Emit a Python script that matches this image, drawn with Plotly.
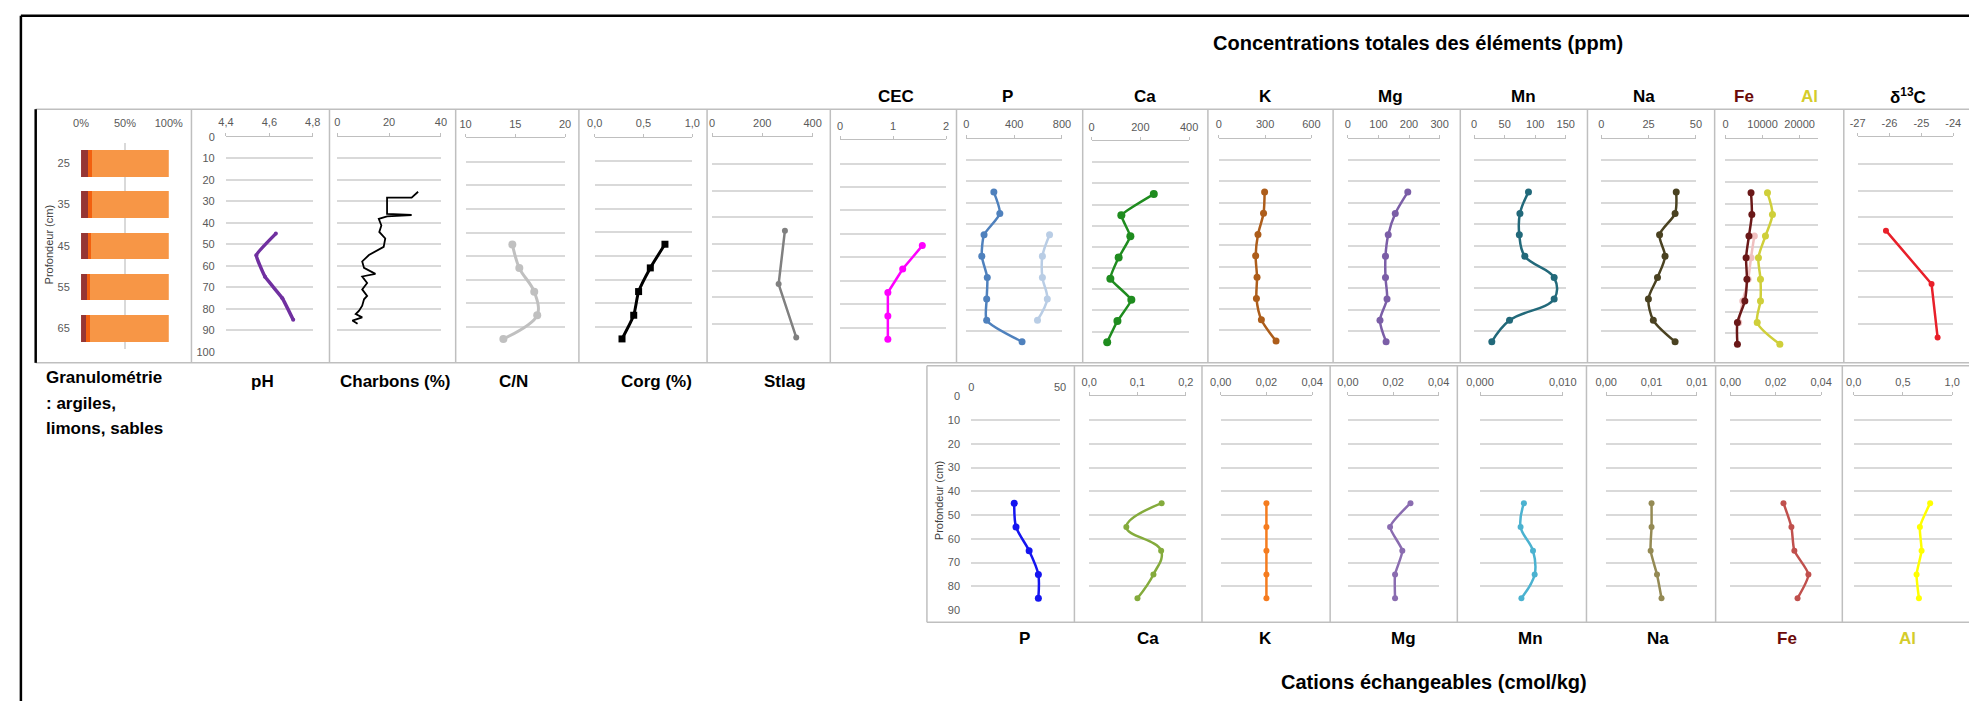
import plotly.graph_objects as go

W, H = 1983, 707


def px(x):
    return x / W


def py(y):
    return 1 - y / H


# ---------------- DATA ----------------
granulo_depth = [25, 35, 45, 55, 65]
argiles = [8.5, 8.5, 7.5, 6.5, 6.0]
limons = [4.5, 4.5, 4.0, 4.0, 4.0]
sables = [87.0, 87.0, 88.5, 89.5, 90.0]

depth_5 = [45, 55, 65, 75, 85]
depth_8 = [25, 35, 45, 55, 65, 75, 85, 95]
depth_3 = [35, 55, 75]

ph = [4.63, 4.54, 4.58, 4.66, 4.71]
charbons_depth = [25.6, 28.3, 28.3, 35.9, 36.4, 37.0, 38.2, 41.3, 44.3, 47.3, 51.2,
                  55.0, 58.0, 61.0, 63.8, 65.0, 68.0, 71.0, 74.0, 75.6, 78.6, 80.9,
                  82.5, 84.0, 85.5, 87.0]
charbons = [31.2, 28.7, 19.2, 19.2, 28.7, 19.2, 16.0, 17.0, 16.2, 18.5, 17.9,
            12.2, 9.6, 10.3, 14.7, 9.6, 11.5, 9.6, 11.5, 10.3, 9.6, 8.4,
            7.1, 9.6, 5.8, 7.8]
cn = [14.7, 15.4, 16.9, 17.2, 13.8]
corg = [0.72, 0.57, 0.45, 0.40, 0.28]
stlag = [290, 265, 335]
cec = [1.55, 1.18, 0.90, 0.90, 0.90]

p_tot = [230, 280, 148, 129, 175, 170, 170, 466]
p_tot_b = [696, 636, 636, 677, 595]
ca_tot = [255, 122, 159, 111, 77, 163, 106, 64]
k_tot = [297, 290, 254, 239, 248, 244, 276, 371]
mg_tot = [196, 155, 132, 123, 123, 128, 105, 125]
mn_tot = [89, 75, 74, 83, 131, 131, 58, 29]
na_tot = [39.6, 39.0, 30.8, 33.7, 29.7, 24.9, 27.5, 39.0]
fe_tot = [6890, 7110, 6330, 5560, 5780, 5220, 3220, 3220]
al_tot = [11330, 12670, 10780, 8890, 9440, 9440, 8560, 14670]
fe_tot_b = [7780, 6890, 6110, 4670, 3560]
d13c = [-26.11, -24.68, -24.49]

p_ex = [24.2, 25.2, 32.6, 37.8, 37.8]
ca_ex = [0.150, 0.077, 0.149, 0.133, 0.100]
k_ex = [0.020, 0.020, 0.020, 0.020, 0.020]
mg_ex = [0.0276, 0.0186, 0.0240, 0.0208, 0.0208]
mn_ex = [0.0053, 0.0049, 0.0064, 0.0066, 0.0050]
na_ex = [0.0050, 0.0050, 0.0049, 0.0056, 0.0061]
fe_ex = [0.0234, 0.0269, 0.0282, 0.0344, 0.0296]
al_ex = [0.776, 0.672, 0.689, 0.638, 0.662]

# ---------------- FIGURE ----------------
fig = go.Figure()
layout = {}
TICKFONT = dict(family="Liberation Sans", size=11, color="#595959")
counter = {"n": 0}


def new_panel(x0, x1, ytop, ybot, R, xrange, tickvals, ticktext, ylabels=False,
              axisline=True):
    counter["n"] += 1
    n = counter["n"]
    sx = "" if n == 1 else str(n)
    layout["xaxis" + sx] = dict(
        domain=[px(x0), px(x1)], anchor="y" + sx, side="top", range=xrange,
        tickvals=tickvals, ticktext=ticktext, showline=axisline, linecolor="#bfbfbf",
        linewidth=1, ticks="outside" if axisline else "", ticklen=3, tickcolor="#bfbfbf",
        showgrid=False, zeroline=False, tickfont=TICKFONT, ticklabelstandoff=2,
        fixedrange=True)
    yt = list(range(0, R + 1, 10)) if ylabels else list(range(10, R + 1, 10))
    layout["yaxis" + sx] = dict(
        domain=[py(ybot), py(ytop)], anchor="x" + sx, range=[R, 0], tickvals=yt,
        showgrid=True, gridcolor="#d9d9d9", gridwidth=2, showline=False,
        zeroline=False, showticklabels=ylabels, ticks="outside" if ylabels else "",
        ticklen=8, tickcolor="rgba(0,0,0,0)", tickfont=TICKFONT, fixedrange=True)
    return ("x" + sx, "y" + sx)


def line(ax, xs, ys, color, width=2.5, msize=7, symbol="circle", smooth=0.7,
         markers=True):
    fig.add_trace(go.Scatter(
        x=xs, y=ys, xaxis=ax[0], yaxis=ax[1], showlegend=False,
        mode="lines+markers" if markers else "lines",
        line=dict(color=color, width=width, shape="spline" if smooth else "linear",
                  smoothing=smooth if smooth else 0),
        marker=dict(size=msize, color=color, symbol=symbol), cliponaxis=False,
        hoverinfo="skip"))


# Granulometry panel
counter["n"] += 1
layout["xaxis"] = dict(domain=[px(68), px(157)], anchor="y", side="top", range=[0, 100],
                       tickvals=[0, 50, 100], ticktext=["0%", "50%", "100%"],
                       showline=False, showgrid=True, gridcolor="#d9d9d9", gridwidth=1.5,
                       zeroline=False, ticks="outside", ticklen=10,
                       tickcolor="rgba(0,0,0,0)", tickfont=TICKFONT, fixedrange=True)
layout["yaxis"] = dict(domain=[py(349), py(139)], anchor="x", range=[70, 20],
                       tickvals=granulo_depth, showgrid=False, zeroline=False,
                       showline=False, ticks="outside", ticklen=8,
                       tickcolor="rgba(0,0,0,0)", tickfont=TICKFONT, fixedrange=True)
for vals, col in [(argiles, "#963634"), (limons, "#f2600f"), (sables, "#f79646")]:
    fig.add_trace(go.Bar(x=vals, y=granulo_depth, orientation="h", width=6.4,
                         marker=dict(color=col, line=dict(width=0)), xaxis="x",
                         yaxis="y", showlegend=False, hoverinfo="skip"))

# Top row
a = new_panel(215, 303, 133, 352, 100, [4.4, 4.8], [4.4, 4.6, 4.8],
              ["4,4", "4,6", "4,8"], ylabels=True)
line(a, ph, depth_5, "#7030a0", width=3.5, smooth=0.3, markers=True, msize=4)

a = new_panel(328, 433, 133, 351.7, 100, [0, 40], [0, 20, 40], ["0", "20", "40"])
line(a, charbons, charbons_depth, "#000000", width=1.8, smooth=0, markers=False)

a = new_panel(458, 559, 134.3, 350.7, 90, [10, 20], [10, 15, 20], ["10", "15", "20"])
line(a, cn, depth_5, "#c0c0c0", width=3, msize=8, smooth=1.0)

a = new_panel(589, 688, 134, 350.7, 90, [0, 1], [0, 0.5, 1], ["0,0", "0,5", "1,0"])
line(a, corg, depth_5, "#000000", width=3, msize=7, symbol="square", smooth=0.5)

a = new_panel(708, 810, 133.5, 350.7, 80, [0, 400], [0, 200, 400], ["0", "200", "400"])
line(a, stlag, depth_3, "#808080", width=2.5, msize=6, smooth=0)

a = new_panel(838, 945.5, 136.5, 351, 90, [0, 2], [0, 1, 2], ["0", "1", "2"])
line(a, cec, depth_5, "#ff00ff", width=2.5, msize=7, smooth=0)

a = new_panel(966, 1063, 135, 352.3, 100, [0, 800], [0, 400, 800], ["0", "400", "800"])
line(a, p_tot_b, depth_5, "#b9cde5", width=2.5, msize=7, smooth=0.9)
line(a, p_tot, depth_8, "#4f81bd", width=2.5, msize=7, smooth=0.6)

a = new_panel(1093, 1192, 137.5, 352.7, 100, [0, 400], [0, 200, 400], ["0", "200", "400"])
line(a, ca_tot, depth_8, "#1f8c1f", width=2.5, msize=8, smooth=0.3)

a = new_panel(1222, 1316, 135, 351.7, 100, [0, 600], [0, 300, 600], ["0", "300", "600"])
line(a, k_tot, depth_8, "#ad5d1a", width=2.5, msize=7, smooth=0.8)

a = new_panel(1353, 1446, 135, 352.3, 100, [0, 300], [0, 100, 200, 300],
              ["0", "100", "200", "300"])
line(a, mg_tot, depth_8, "#7b5ea7", width=2.5, msize=7, smooth=0.8)

a = new_panel(1481, 1574, 135, 352.3, 100, [0, 150], [0, 50, 100, 150],
              ["0", "50", "100", "150"])
line(a, mn_tot, depth_8, "#22697a", width=2.5, msize=7, smooth=1.1)

a = new_panel(1610, 1706, 135, 352.3, 100, [0, 50], [0, 25, 50], ["0", "25", "50"])
line(a, na_tot, depth_8, "#4a4221", width=2.5, msize=7, smooth=0.8)

a = new_panel(1736, 1830, 135, 355, 100, [0, 25000], [0, 10000, 20000],
              ["0", "10000", "20000"])
line(a, fe_tot_b, depth_5, "#f0c0c0", width=2.5, msize=7, smooth=0.8)
line(a, al_tot, depth_8, "#cfcf3a", width=2.5, msize=7, smooth=0.8)
line(a, fe_tot, depth_8, "#6a1818", width=2.5, msize=7, smooth=0.8)

a = new_panel(1870, 1967, 133.5, 350.7, 80, [-27, -24], [-27, -26, -25, -24],
              ["-27", "-26", "-25", "-24"])
line(a, d13c, depth_3, "#e8202a", width=2.5, msize=6, smooth=0)

# Bottom row (exchangeable cations)
BT, BB = 397, 614.5
a = new_panel(971, 1061, BT, BB, 90, [0, 50], [0, 50], ["0", "50"], ylabels=True,
              axisline=False)
line(a, p_ex, depth_5, "#1515f0", width=2.5, msize=7, smooth=0.8)

a = new_panel(1090.5, 1188.6, BT, BB, 90, [0, 0.2], [0, 0.1, 0.2], ["0,0", "0,1", "0,2"])
line(a, ca_ex, depth_5, "#84ab3c", width=2.5, msize=6, smooth=1.2)

a = new_panel(1224, 1316.7, BT, BB, 90, [0, 0.04], [0, 0.02, 0.04],
              ["0,00", "0,02", "0,04"])
line(a, k_ex, depth_5, "#f57c1f", width=2.5, msize=6)

a = new_panel(1353, 1445, BT, BB, 90, [0, 0.04], [0, 0.02, 0.04],
              ["0,00", "0,02", "0,04"])
line(a, mg_ex, depth_5, "#8a6cb0", width=2.5, msize=6, smooth=0.5)

a = new_panel(1487, 1571, BT, BB, 90, [0, 0.01], [0, 0.01], ["0,000", "0,010"])
line(a, mn_ex, depth_5, "#4bb2d0", width=2.5, msize=6, smooth=1.1)

a = new_panel(1615, 1707, BT, BB, 90, [0, 0.01], [0, 0.005, 0.01],
              ["0,00", "0,01", "0,01"])
line(a, na_ex, depth_5, "#948a54", width=2.5, msize=6, smooth=0.6)

a = new_panel(1741, 1833, BT, BB, 90, [0, 0.04], [0, 0.02, 0.04],
              ["0,00", "0,02", "0,04"])
line(a, fe_ex, depth_5, "#c0504d", width=2.5, msize=6, smooth=0.6)

a = new_panel(1866, 1966, BT, BB, 90, [0, 1], [0, 0.5, 1], ["0,0", "0,5", "1,0"])
line(a, al_ex, depth_5, "#ffff00", width=2.5, msize=6, smooth=0.5)

# ---------------- FRAMES ----------------
shapes = []


def seg(x0, y0, x1, y1, color="#bfbfbf", width=1.5):
    shapes.append(dict(type="line", xref="paper", yref="paper", x0=px(x0), y0=py(y0),
                       x1=px(x1), y1=py(y1), line=dict(color=color, width=width)))


# outer black frame
seg(7, 10, 1983, 10, "#000000", 2.5)
seg(7, 10, 7, 707, "#000000", 2.5)
# top row frame
seg(22, 105, 1983, 105)
seg(22, 363, 1983, 363)
seg(22, 105, 22, 363, "#000000", 2.5)
for xd in [180, 320, 448, 573, 703, 828, 956, 1084, 1211, 1338, 1467, 1596, 1725, 1856]:
    seg(xd, 105, xd, 363)
# bottom row frame
seg(926, 366, 1983, 366)
seg(926, 627, 1983, 627)
seg(926, 366, 926, 627)
for xd in [1075.6, 1205, 1335, 1464, 1595, 1726, 1854.5]:
    seg(xd, 366, xd, 627)

# ---------------- TEXT ----------------
ann = []


def txt(x, y, s, size=16, color="#000000", xanchor="center", angle=0, bold=True,
        family="Liberation Sans"):
    ann.append(dict(xref="paper", yref="paper", x=px(x), y=py(y),
                    text="<b>" + s + "</b>" if bold else s, showarrow=False,
                    xanchor=xanchor, yanchor="middle", textangle=angle,
                    font=dict(family=family, size=size, color=color)))


txt(1424, 38, "Concentrations totales des éléments (ppm)", size=20)
for x, s, c in [(895, "CEC", "#000"), (1008, "P", "#000"), (1147, "Ca", "#000"),
                (1269, "K", "#000"), (1396, "Mg", "#000"), (1531, "Mn", "#000"),
                (1653, "Na", "#000"), (1755, "Fe", "#6b0a0a"), (1821, "Al", "#d4cc2a"),
                (1921, "δ<sup>13</sup>C", "#000")]:
    txt(x, 92, s, size=17, color=c)

txt(30, 378, "Granulométrie", size=17, xanchor="left")
txt(30, 404, ": argiles,", size=17, xanchor="left")
txt(30, 430, "limons, sables", size=17, xanchor="left")
for x, s in [(252, "pH"), (387, "Charbons (%)"), (507, "C/N"), (652, "Corg (%)"),
             (782, "Stlag")]:
    txt(x, 382, s, size=17)

for x, s, c in [(1025, "P", "#000"), (1150, "Ca", "#000"), (1269, "K", "#000"),
                (1409, "Mg", "#000"), (1538, "Mn", "#000"), (1668, "Na", "#000"),
                (1798, "Fe", "#6b0a0a"), (1921, "Al", "#d4cc2a")]:
    txt(x, 643, s, size=17, color=c)
txt(1440, 688, "Cations échangeables (cmol/kg)", size=20)

txt(35, 243, "Profondeur (cm)", size=11, color="#404040", angle=-90, bold=False)
txt(939, 503, "Profondeur (cm)", size=11, color="#404040", angle=-90, bold=False)

fig.update_layout(**layout)
fig.update_layout(
    width=W, height=H, autosize=False, margin=dict(l=0, r=0, t=0, b=0, pad=0),
    paper_bgcolor="white", plot_bgcolor="white", barmode="stack", bargap=0.35,
    shapes=shapes, annotations=ann, showlegend=False,
    font=dict(family="Liberation Sans"))

fig.write_html("out.html", config={"displayModeBar": False},
               post_script="document.body.style.margin='0px';")
